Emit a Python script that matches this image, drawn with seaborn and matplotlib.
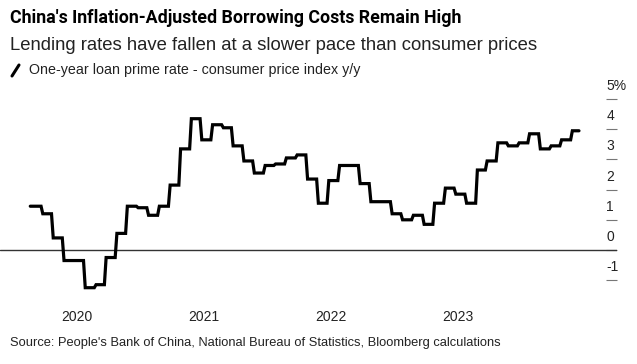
import pandas as pd
import seaborn as sns
import matplotlib.pyplot as plt
from matplotlib.lines import Line2D

# one-year LPR minus CPI y/y, monthly from Aug 2019
first_month = "2019-08"
spread = [
    1.45, 1.2, 0.4, -0.35, -0.35,
    -1.25, -1.15, -0.25, 0.55, 1.45, 1.4, 1.15, 1.45, 2.15, 3.35, 4.35, 3.65,
    4.15, 4.05, 3.45, 2.95, 2.55, 2.8, 2.85, 3.05, 3.15, 2.35, 1.55, 2.3,
    2.8, 2.8, 2.2, 1.6, 1.6, 1.2, 1.0, 1.15, 0.85, 1.55, 2.05, 1.85,
    1.55, 2.65, 2.95, 3.55, 3.45, 3.55, 3.85, 3.35, 3.45, 3.65, 3.95,
]
as_of = "2023-12-14"
year_ticks = ["2020", "2021", "2022", "2023"]
y_ticks = [-1, 0, 1, 2, 3, 4, 5]

# LPR is fixed on the 20th; each reading holds until the next one,
# the change phasing in over a few days (as in the daily source series)
starts = pd.date_range(first_month, periods=len(spread), freq="MS") + pd.Timedelta(days=19)
ends = list(starts[1:]) + [pd.Timestamp(as_of)]
rows = []
for s, e, v in zip(starts, ends, spread):
    rows.append((s + pd.Timedelta(days=5) if s != starts[0] else s, v))
    rows.append((e, v))
df = pd.DataFrame(rows, columns=["date", "spread"])

sns.set_style("white")
plt.rcParams["font.family"] = ["Liberation Sans", "DejaVu Sans"]

fig = plt.figure(figsize=(6.37, 3.64), dpi=100)
ax = fig.add_axes([0, 0.198, 0.969, 0.582])

ax.axhline(0, color="#333333", lw=1.0, zorder=1)
sns.lineplot(data=df, x="date", y="spread", color="black", linewidth=2.3,
             sort=False, estimator=None, solid_joinstyle="miter", ax=ax)

ax.set_ylim(-1.39, 5.63)
ax.set_xlim(pd.Timestamp("2019-05-25"), pd.Timestamp("2024-04-02"))
for s in ax.spines.values():
    s.set_visible(False)
ax.set_xlabel("")
ax.set_ylabel("")

ax.set_xticks([pd.Timestamp(y + "-01-01") for y in year_ticks])
ax.set_xticklabels(year_ticks)
ax.tick_params(axis="x", direction="out", length=5, width=0.8, color="#777777",
               pad=8, labelsize=10, labelcolor="#222222")

ax.yaxis.tick_right()
ax.set_yticks(y_ticks)
ax.tick_params(axis="y", direction="in", length=8, width=0.8, color="#777777",
               labelright=False, labelleft=False)
for v in y_ticks:
    lab = f"{v}%" if v == y_ticks[-1] else str(v)
    ax.annotate(lab, xy=(1, v), xycoords=("axes fraction", "data"),
                xytext=(-8, 6.5), textcoords="offset points",
                ha="left", va="baseline", fontsize=10, color="#222222")

fig.text(10 / 637, 1 - 18 / 364, "China's Inflation-Adjusted Borrowing Costs Remain High",
         fontsize=12.8, fontweight="bold", va="center", color="black",
         family=["Roboto", "Liberation Sans"])
fig.text(10 / 637, 1 - 45 / 364, "Lending rates have fallen at a slower pace than consumer prices",
         fontsize=13.3, va="center", color="#222222")
fig.add_artist(Line2D([12 / 637, 19 / 637], [1 - 76 / 364, 1 - 65 / 364],
                      color="black", lw=2.2, transform=fig.transFigure))
fig.text(29 / 637, 1 - 70 / 364, "One-year loan prime rate - consumer price index y/y",
         fontsize=10.3, va="center", color="#222222")
fig.text(10 / 637, 1 - 343 / 364,
         "Source: People's Bank of China, National Bureau of Statistics, Bloomberg calculations",
         fontsize=9.3, va="center", color="#222222")

fig.savefig("out.png", dpi=100)
